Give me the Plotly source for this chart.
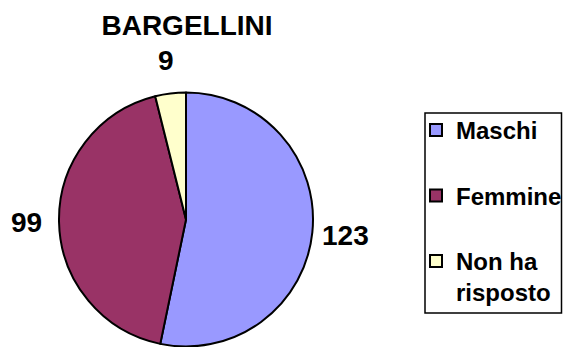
import math
import plotly.graph_objects as go

labels = ["Maschi", "Femmine", "Non ha<br>risposto"]
values = [123, 99, 9]
colors = ["#9999FF", "#993366", "#FFFFCC"]

W, H = 563, 347
FONT = "Arial, Liberation Sans"

# pie placement in pixels
cx, cy, r = 186, 219.5, 127
label_r = r + 33

# one padding line so the legend entries spread out like the original
legend_text = [l + "<br> " if "<br>" not in l else l for l in labels]

fig = go.Figure()
fig.add_trace(go.Pie(
    labels=legend_text,
    values=values,
    sort=False,
    direction="clockwise",
    rotation=0,
    marker=dict(colors=colors, line=dict(color="black", width=2)),
    textinfo="none",
    domain=dict(x=[(cx - r) / W, (cx + r) / W], y=[1 - (cy + r) / H, 1 - (cy - r) / H]),
    hoverinfo="label+value",
))

# value labels centred outside each slice, on the slice mid-angle
total = sum(values)
cum = 0
for v in values:
    mid = (cum + v / 2) / total * 2 * math.pi
    cum += v
    x = cx + label_r * math.sin(mid)
    y = cy - label_r * math.cos(mid)
    fig.add_annotation(x=x / W, y=1 - y / H, xref="paper", yref="paper",
                       text="<b>%d</b>" % v, showarrow=False,
                       xanchor="center", yanchor="middle",
                       font=dict(family=FONT, size=28, color="black"))

# legend frame
fig.add_shape(type="rect", xref="paper", yref="paper",
              x0=425 / W, x1=561.5 / W, y0=1 - 313 / H, y1=1 - 113 / H,
              line=dict(color="black", width=1.5), fillcolor="rgba(0,0,0,0)")

fig.update_layout(
    width=W, height=H,
    margin=dict(l=0, r=0, t=0, b=0, autoexpand=False),
    paper_bgcolor="white",
    title=dict(text="<b>BARGELLINI</b>", x=187 / W, xanchor="center",
               y=1 - 25 / H, yanchor="middle",
               font=dict(family=FONT, size=28, color="black")),
    legend=dict(
        x=416 / W, y=1 - 108 / H, xanchor="left", yanchor="top",
        bgcolor="rgba(0,0,0,0)", borderwidth=0,
        valign="top",
        font=dict(family=FONT, size=24, color="black", weight="bold"),
    ),
    font=dict(family=FONT, color="black"),
)

# the page body has a default 8px margin; drop it so the chart sits at 0,0
fig.write_html("out.html", config={"displayModeBar": False},
               post_script="document.body.style.margin='0';")
